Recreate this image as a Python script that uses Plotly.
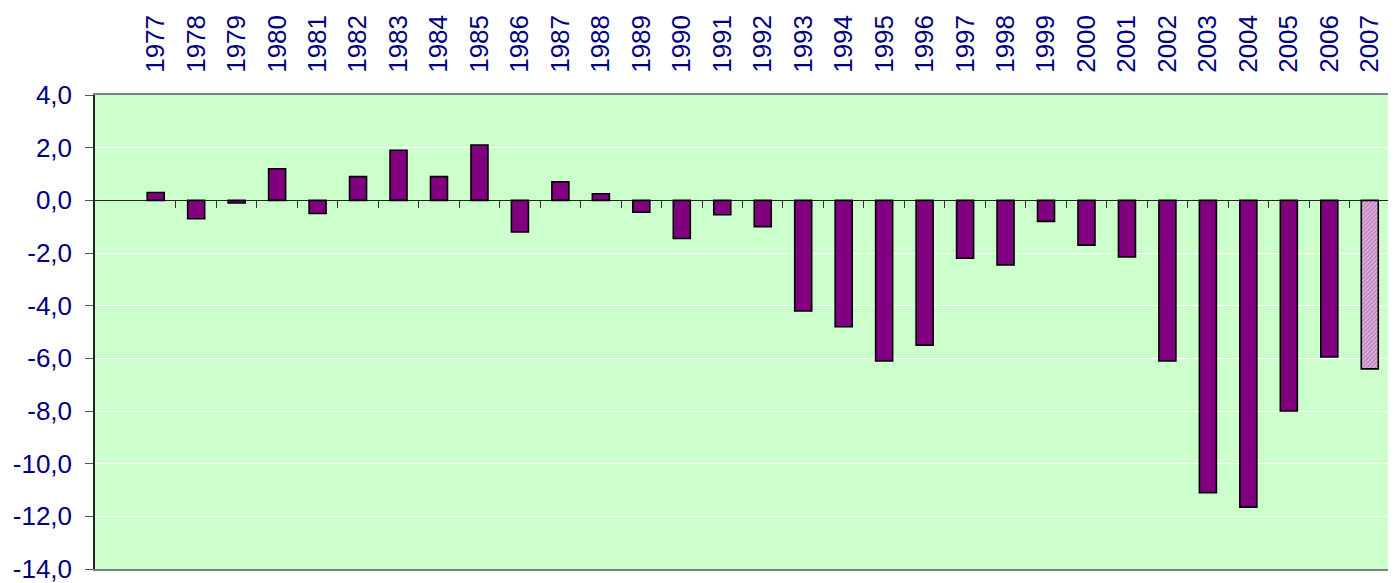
import plotly.graph_objects as go

years = list(range(1977, 2008))
values = [0.3, -0.7, -0.1, 1.2, -0.5, 0.9, 1.9, 0.9, 2.1, -1.2,
          0.7, 0.25, -0.45, -1.45, -0.55, -1.0, -4.2, -4.8, -6.1, -5.5,
          -2.2, -2.45, -0.8, -1.7, -2.15, -6.1, -11.1, -11.65, -8.0, -5.95,
          -6.4]
y_ticks = [4, 2, 0, -2, -4, -6, -8, -10, -12, -14]

NAVY = "#000080"
FONT = "Arial, Liberation Sans, sans-serif"

hist_x, hist_y = years[:-1], values[:-1]
last_x, last_y = years[-1:], values[-1:]

fig = go.Figure()
fig.add_trace(go.Bar(
    x=hist_x, y=hist_y, width=0.42,
    marker=dict(color="#800080", line=dict(color="black", width=1.6)),
    showlegend=False, hoverinfo="x+y"))
fig.add_trace(go.Bar(
    x=last_x, y=last_y, width=0.42,
    marker=dict(color="#D9A6D9",
                line=dict(color="black", width=1.6),
                pattern=dict(shape="/", fgcolor="#A050A0", bgcolor="#DDB0DD",
                             size=3, solidity=0.45)),
    showlegend=False, hoverinfo="x+y"))

xr = [years[0] - 1.5, years[-1] + 0.5]
yr = [min(y_ticks), max(y_ticks)]
y_text = [f"{v:.1f}".replace(".", ",") for v in y_ticks]

fig.update_layout(
    width=1388, height=575,
    margin=dict(l=87, r=6, t=87, b=14, autoexpand=False),
    paper_bgcolor="white",
    plot_bgcolor="#CCFFCC",
    barmode="overlay",
    font=dict(family=FONT, color=NAVY, size=26),
    xaxis=dict(
        range=xr, side="top", tickmode="array", automargin=False,
        tickvals=years, ticktext=[str(y) for y in years],
        tickangle=-90, ticks="", showgrid=False, zeroline=False,
        showline=True, linecolor="#808080", linewidth=2, mirror=True,
        tickfont=dict(family=FONT, color=NAVY, size=26),
        ticklabelstandoff=15, ticklabeloverflow="allow",
    ),
    xaxis2=dict(
        range=xr, overlaying="x", anchor="free", automargin=False,
        position=(0 - yr[0]) / (yr[1] - yr[0]),
        side="bottom", tickmode="array",
        tickvals=[y + 0.5 for y in years[:-1]],
        ticks="outside", ticklen=7, tickwidth=1, tickcolor="#333333",
        showticklabels=False, showgrid=False, zeroline=False, showline=False,
    ),
    yaxis=dict(
        range=yr, tickmode="array", tickvals=y_ticks, ticktext=y_text,
        automargin=False,
        ticks="outside", ticklen=8, tickcolor="#555555",
        showgrid=True, gridcolor="white", gridwidth=1.3,
        zeroline=True, zerolinecolor="#222222", zerolinewidth=1.3,
        showline=True, linecolor="#222222", linewidth=1.5,
        tickfont=dict(family=FONT, color=NAVY, size=26),
        ticklabelstandoff=8, ticklabeloverflow="allow",
    ),
    yaxis2=dict(
        range=yr, overlaying="y", side="right", showline=True,
        automargin=False,
        linecolor="#808080", linewidth=2, showticklabels=False,
        showgrid=False, zeroline=False, ticks="",
    ),
)

# invisible trace to activate the secondary axes
fig.add_trace(go.Scatter(x=[xr[0]], y=[0], xaxis="x2", yaxis="y2",
                         mode="markers", marker=dict(opacity=0),
                         showlegend=False, hoverinfo="skip"))

fig.write_html("out.html")
